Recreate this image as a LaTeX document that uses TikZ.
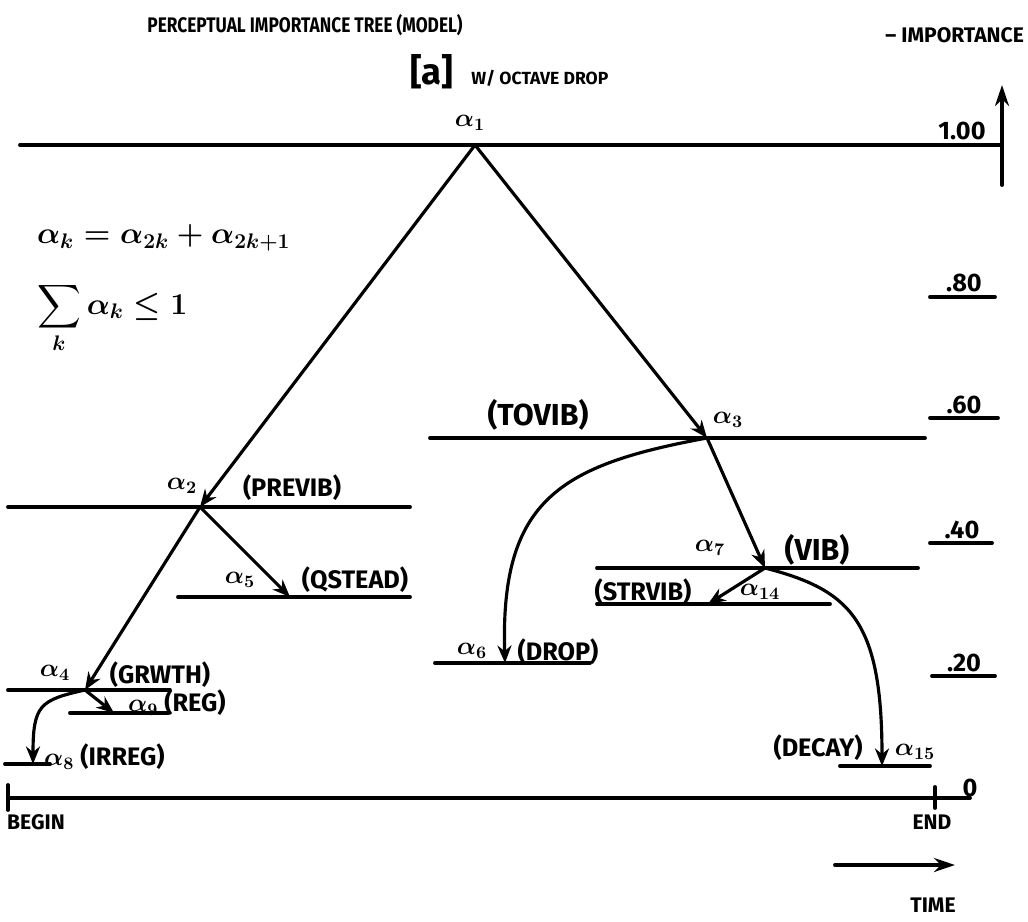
\documentclass[tikz,border=0pt]{standalone}
\usepackage{amsmath}
\usepackage{fontspec}
\setmainfont{Fira Sans}
\usetikzlibrary{arrows.meta, positioning, calc}

\begin{document}
\begin{tikzpicture}[x=0.02cm, y=-0.02cm, line cap=round,
    tier/.style={line width=2.2pt},
    branch/.style={line width=1.8pt, -{Stealth[length=10pt, width=8pt]}},
    every node/.style={font=\bfseries\boldmath\Large, inner sep=1pt}]
    \useasboundingbox (0,0) rectangle (1028,922);

    % junction points of the tree
    \coordinate (a1) at (475,145);
    \coordinate (a2) at (200,507);
    \coordinate (a3) at (707,438);
    \coordinate (a4) at (85,690);
    \coordinate (a5) at (290,597);
    \coordinate (a6) at (505,663);
    \coordinate (a7) at (765,568);
    \coordinate (a8) at (33,764);
    \coordinate (a9) at (114,713);
    \coordinate (a14) at (708,604);
    \coordinate (a15) at (882,766);

    % importance levels
    \draw[tier] (20,145) -- (1000,145);
    \draw[tier] (8,507) -- (410,507);
    \draw[tier] (430,438) -- (925,438);
    \draw[tier] (178,597) -- (410,597);
    \draw[tier] (8,690) -- (170,690);
    \draw[tier] (70,713) -- (168,713);
    \draw[tier] (5,764) -- (50,764);
    \draw[tier] (435,663) -- (590,663);
    \draw[tier] (597,568) -- (918,568);
    \draw[tier] (597,604) -- (830,604);
    \draw[tier] (840,766) -- (930,766);

    % time axis
    \draw[tier] (8,798) -- (970,798);
    \draw[tier] (8,785) -- (8,810);
    \draw[tier] (935,787) -- (935,808);

    % scale ticks
    \draw[tier] (930,297) -- (995,297);
    \draw[tier] (930,418) -- (998,418);
    \draw[tier] (930,543) -- (992,543);
    \draw[tier] (932,676) -- (995,676);

    \draw[tier, -{Stealth[length=12pt, width=8pt]}] (1002,185) -- (1002,85);
    \draw[tier, -{Stealth[length=12pt, width=8pt]}] (835,865) -- (955,865);

    % branches
    \draw[branch] (a1) -- (a2);
    \draw[branch] (a1) -- (a3);
    \draw[branch] (a2) -- (a4);
    \draw[branch] (a2) -- (a5);
    \draw[branch] (a3) -- (a7);
    \draw[branch] (a3) .. controls (560,465) and (500,500) .. (a6);
    \draw[branch] (a7) -- (a14);
    \draw[branch] (a7) .. controls (850,590) and (882,620) .. (a15);
    \draw[branch] (a4) -- (a9);
    \draw[branch] (a4) .. controls (40,700) and (33,705) .. (a8);

    % titles
    \node[font=\bfseries\large, xscale=0.82, transform shape] (title) at (305,25) {PERCEPTUAL IMPORTANCE TREE (MODEL)};
    \node[anchor=east, font=\bfseries\large] (imp) at (1026,35) {-- IMPORTANCE};
    \node[anchor=west, font=\bfseries\normalsize] (case) at (408,72) {{\huge [a]}\quad W/ OCTAVE DROP};

    % relations
    \node[anchor=west, font=\boldmath\LARGE] (rule) at (35,238) {$\alpha_k = \alpha_{2k} + \alpha_{2k+1}$};
    \node[anchor=west, font=\boldmath\LARGE] (sum) at (35,318) {$\displaystyle\sum_k \alpha_k \le 1$};

    % node labels
    \node (l1) at (470,123) {$\alpha_1$};
    \node (l2) at (182,486) {$\alpha_2$};
    \node (t2) at (292,488) {(PREVIB)};
    \node (l3) at (728,420) {$\alpha_3$};
    \node[font=\bfseries\LARGE] (t3) at (538,415) {(TOVIB)};
    \node (l5) at (240,580) {$\alpha_5$};
    \node (t5) at (355,580) {(QSTEAD)};
    \node (l4) at (55,673) {$\alpha_4$};
    \node (t4) at (160,675) {(GRWTH)};
    \node[anchor=west] (t9) at (126,703) {$\alpha_9$ (REG)};
    \node[anchor=west] (t8) at (42,757) {$\alpha_8$ (IRREG)};
    \node (l6) at (472,651) {$\alpha_6$};
    \node (t6) at (558,652) {(DROP)};
    \node (l7) at (710,548) {$\alpha_7$};
    \node[font=\bfseries\LARGE] (t7) at (817,550) {(VIB)};
    \node (t14) at (643,592) {(STRVIB)};
    \node (l14) at (760,592) {$\alpha_{14}$};
    \node (t15) at (818,748) {(DECAY)};
    \node (l15) at (915,752) {$\alpha_{15}$};

    % scale values
    \node (v100) at (962,131) {1.00};
    \node (v80) at (964,283) {.80};
    \node (v60) at (964,405) {.60};
    \node (v40) at (962,530) {.40};
    \node (v20) at (964,663) {.20};
    \node (v0) at (970,788) {0};
    \node[font=\bfseries\large] (begin) at (36,822) {BEGIN};
    \node[font=\bfseries\large] (end) at (932,822) {END};
    \node[font=\bfseries\large] (time) at (933,905) {TIME};
\end{tikzpicture}
\end{document}
